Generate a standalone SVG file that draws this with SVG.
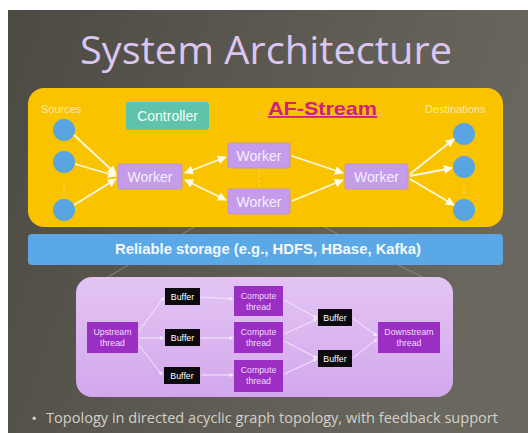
<svg xmlns="http://www.w3.org/2000/svg" width="528" height="433" viewBox="0 0 528 433">
<defs>
<linearGradient id="bg" x1="0" y1="0" x2="1" y2="0.3">
<stop offset="0" stop-color="#4c4a42"/>
<stop offset="1" stop-color="#6a675f"/>
</linearGradient>
<linearGradient id="pur" x1="0" y1="0" x2="0" y2="1">
<stop offset="0" stop-color="#e4c4f4"/>
<stop offset="1" stop-color="#d2a8ec"/>
</linearGradient>
<marker id="ah" viewBox="0 0 10 10" refX="9" refY="5" markerWidth="5" markerHeight="5" orient="auto-start-reverse">
<path d="M0,0 L10,5 L0,10 z" fill="#fffbe8"/>
</marker>
<marker id="ahs" viewBox="0 0 10 10" refX="9" refY="5" markerWidth="4" markerHeight="4" orient="auto">
<path d="M0,0 L10,5 L0,10 z" fill="#f6ecff"/>
</marker>
</defs>
<style>
.lbl{font-family:"Liberation Sans",Arial,sans-serif}
.worker rect{fill:#c49cea;stroke:#b78fe0;stroke-width:0.8}
.worker text{font-family:"Liberation Sans",Arial,sans-serif;font-size:14px;fill:#f6efff;text-anchor:middle}
.circ{fill:#58a5e2}
.edge{stroke:#fff8e0;stroke-width:1.8;fill:none}
.th rect{fill:#9b2fc4}
.th text{font-family:"Liberation Sans",Arial,sans-serif;font-size:8.8px;fill:#f0dcfa;text-anchor:middle}
.buf rect{fill:#0c0a0e}
.buf text{font-family:"Liberation Sans",Arial,sans-serif;font-size:8.8px;fill:#ffffff;text-anchor:middle}
.thin{stroke:#f4e8fb;stroke-width:1;fill:none}
</style>
<rect width="528" height="433" fill="#ffffff"/>
<rect x="8" y="10" width="520" height="423" fill="url(#bg)"/>
<text x="266" y="64" font-family="Open Sans,Liberation Sans,sans-serif" font-size="38" fill="#dcc6f0" text-anchor="middle" textLength="372" lengthAdjust="spacingAndGlyphs">System Architecture</text>

<g id="callout-lines">
<line x1="196" y1="226" x2="106" y2="278" stroke="#8c887e" stroke-width="1"/>
<line x1="322" y1="226" x2="424" y2="278" stroke="#8c887e" stroke-width="1"/>
</g>

<g id="af-stream">
<rect x="28" y="88" width="475" height="139" rx="16" fill="#f9c300"/>
<text x="41" y="113" class="lbl" font-size="11" fill="#fbe7a8">Sources</text>
<text x="425" y="113" class="lbl" font-size="11" fill="#fbe7a8">Destinations</text>
<text x="322.5" y="115" class="lbl" font-size="18.5" font-weight="bold" fill="#d1207c" text-anchor="middle" text-decoration="underline" textLength="109" lengthAdjust="spacingAndGlyphs">AF-Stream</text>
</g>

<g id="controller">
<rect x="126" y="102" width="83" height="28" rx="3" fill="#5ec3a9"/>
<text x="167.5" y="121" class="lbl" font-size="14" fill="#f2fff8" text-anchor="middle">Controller</text>
</g>

<g id="sources">
<circle class="circ" cx="64" cy="130" r="11"/>
<circle class="circ" cx="64" cy="162" r="11"/>
<circle class="circ" cx="64" cy="210" r="11"/>
<line x1="64" y1="185" x2="64" y2="195" stroke="#fbe7a8" stroke-width="1" stroke-dasharray="1.5,3"/>
</g>
<g id="destinations">
<circle class="circ" cx="464" cy="134" r="11"/>
<circle class="circ" cx="464" cy="167" r="11"/>
<circle class="circ" cx="464" cy="210" r="11"/>
<line x1="464" y1="187" x2="464" y2="197" stroke="#fbe7a8" stroke-width="1" stroke-dasharray="1.5,3"/>
</g>

<g id="worker1" class="worker"><rect x="118" y="164" width="64" height="25" rx="2"/><text x="150" y="181.5">Worker</text></g>
<g id="worker2" class="worker"><rect x="228" y="143" width="62" height="25" rx="2"/><text x="259" y="160.5">Worker</text></g>
<g id="worker3" class="worker"><rect x="228" y="189" width="62" height="25" rx="2"/><text x="259" y="206.5">Worker</text></g>
<g id="worker4" class="worker"><rect x="345" y="164" width="63" height="25" rx="2"/><text x="376.5" y="181.5">Worker</text></g>

<g id="connectors">
<line class="edge" x1="74" y1="135" x2="116" y2="174" marker-end="url(#ah)"/>
<line class="edge" x1="75" y1="164" x2="116" y2="176" marker-end="url(#ah)"/>
<line class="edge" x1="74" y1="205" x2="116" y2="179" marker-end="url(#ah)"/>
<line class="edge" x1="185" y1="173" x2="226" y2="157" marker-start="url(#ah)" marker-end="url(#ah)"/>
<line class="edge" x1="185" y1="180" x2="226" y2="200" marker-start="url(#ah)" marker-end="url(#ah)"/>
<line class="edge" x1="292" y1="156" x2="343" y2="173" marker-end="url(#ah)"/>
<line class="edge" x1="292" y1="201" x2="343" y2="180" marker-end="url(#ah)"/>
<line class="edge" x1="410" y1="174" x2="454" y2="139" marker-end="url(#ah)"/>
<line class="edge" x1="410" y1="176" x2="452" y2="168" marker-end="url(#ah)"/>
<line class="edge" x1="410" y1="179" x2="454" y2="205" marker-end="url(#ah)"/>
<line x1="259" y1="171" x2="259" y2="187" stroke="#fbe7a8" stroke-width="1" stroke-dasharray="1.5,3"/>
</g>

<g id="storage">
<rect x="28" y="234" width="475" height="31" rx="4" fill="#5aa8e5"/>
<text x="268" y="254" class="lbl" font-size="14.5" font-weight="bold" fill="#f4f8ff" text-anchor="middle" textLength="306" lengthAdjust="spacingAndGlyphs">Reliable storage (e.g., HDFS, HBase, Kafka)</text>
</g>

<g id="worker-detail">
<rect x="76" y="277" width="377" height="120" rx="16" fill="url(#pur)"/>
</g>

<g id="thread-connectors">
<line class="thin" x1="139" y1="331" x2="164" y2="297" marker-end="url(#ahs)"/>
<line class="thin" x1="139" y1="338" x2="164" y2="338" marker-end="url(#ahs)"/>
<line class="thin" x1="139" y1="345" x2="162" y2="375" marker-end="url(#ahs)"/>
<line class="thin" x1="201" y1="297" x2="233" y2="299" marker-end="url(#ahs)"/>
<line class="thin" x1="201" y1="338" x2="233" y2="338" marker-end="url(#ahs)"/>
<line class="thin" x1="201" y1="375" x2="233" y2="375" marker-end="url(#ahs)"/>
<line class="thin" x1="284" y1="300" x2="317" y2="318" marker-end="url(#ahs)"/>
<line class="thin" x1="284" y1="334" x2="317" y2="319" marker-end="url(#ahs)"/>
<line class="thin" x1="284" y1="341" x2="317" y2="358" marker-end="url(#ahs)"/>
<line class="thin" x1="284" y1="374" x2="317" y2="359" marker-end="url(#ahs)"/>
<line class="thin" x1="353" y1="318" x2="377" y2="336" marker-end="url(#ahs)"/>
<line class="thin" x1="353" y1="358" x2="377" y2="339" marker-end="url(#ahs)"/>
</g>

<g id="upstream" class="th"><rect x="87" y="322" width="51" height="31"/><text x="112.5" y="335">Upstream</text><text x="112.5" y="346">thread</text></g>
<g id="buffer1" class="buf"><rect x="165" y="288" width="35" height="17"/><text x="182.5" y="299.5">Buffer</text></g>
<g id="buffer2" class="buf"><rect x="165" y="329" width="35" height="17"/><text x="182.5" y="340.5">Buffer</text></g>
<g id="buffer3" class="buf"><rect x="164" y="367" width="36" height="17"/><text x="182" y="378.5">Buffer</text></g>
<g id="compute1" class="th"><rect x="234" y="286" width="49" height="30"/><text x="258.5" y="299">Compute</text><text x="258.5" y="310">thread</text></g>
<g id="compute2" class="th"><rect x="234" y="322" width="49" height="31"/><text x="258.5" y="335">Compute</text><text x="258.5" y="346">thread</text></g>
<g id="compute3" class="th"><rect x="234" y="360" width="49" height="32"/><text x="258.5" y="373">Compute</text><text x="258.5" y="384">thread</text></g>
<g id="buffer4" class="buf"><rect x="318" y="309" width="34" height="17"/><text x="335" y="320.5">Buffer</text></g>
<g id="buffer5" class="buf"><rect x="318" y="350" width="34" height="17"/><text x="335" y="361.5">Buffer</text></g>
<g id="downstream" class="th"><rect x="378" y="322" width="62" height="31"/><text x="409" y="335">Downstream</text><text x="409" y="346">thread</text></g>

<text x="32" y="423" class="lbl" font-size="12" fill="#d2cec6">•</text>
<text x="46" y="423" font-family="Open Sans,Liberation Sans,sans-serif" font-size="14" fill="#d4d0c8" textLength="452" lengthAdjust="spacingAndGlyphs">Topology in directed acyclic graph topology, with feedback support</text>
</svg>
